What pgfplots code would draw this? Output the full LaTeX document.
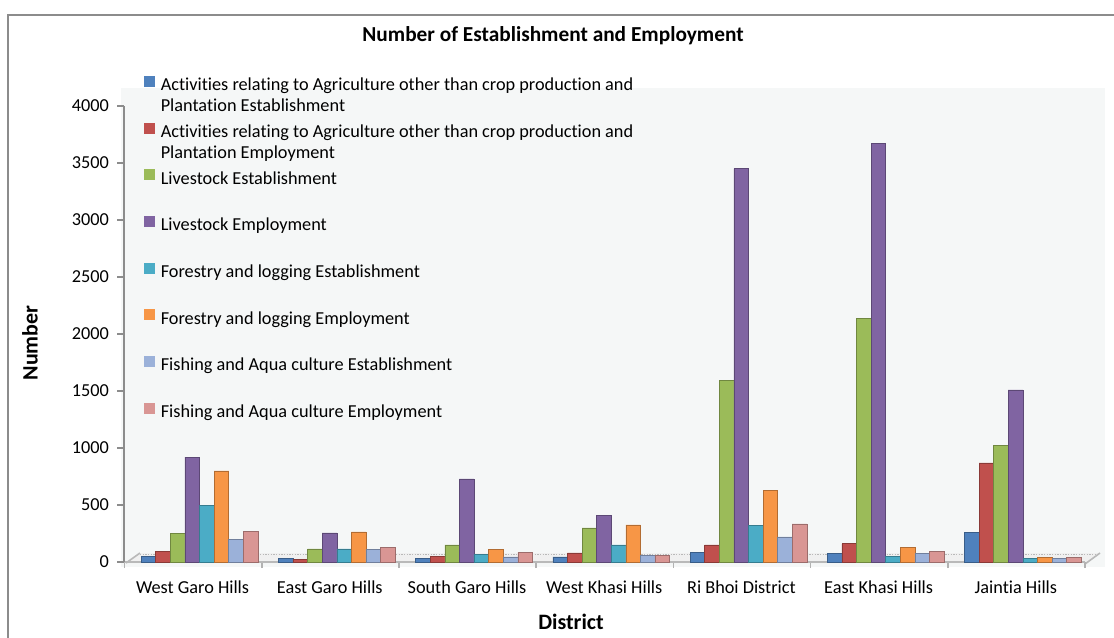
\documentclass[border=0pt]{standalone}
\usepackage{pgfplots}
\pgfplotsset{compat=1.18}
\usepackage{pgfplotstable}
\usepackage{fontspec}
\setmainfont[Ligatures=NoCommon]{Carlito}

\definecolor{c1}{HTML}{4F81BD}
\definecolor{c2}{HTML}{C0504D}
\definecolor{c3}{HTML}{9BBB59}
\definecolor{c4}{HTML}{8064A2}
\definecolor{c5}{HTML}{4BACC6}
\definecolor{c6}{HTML}{F79646}
\definecolor{c7}{HTML}{9BB1D9}
\definecolor{c8}{HTML}{D99694}
\definecolor{bgc}{HTML}{F5F7F7}

\pgfplotstableread{
x s1 s2 s3 s4 s5 s6 s7 s8
0 50 95 250 920 500 800 200 270
1 30 25 115 255 115 265 110 130
2 35 50 150 730 65 110 45 85
3 45 80 300 410 150 325 55 55
4 85 150 1590 3450 320 630 220 335
5 75 160 2140 3670 50 130 75 90
6 260 870 1020 1510 30 40 30 40
}\data

\pgfplotsset{mybar/.style={fill=#1, draw=#1!72!black, line width=0.4pt,
  legend image code/.code={\fill[#1] (0pt,0pt) rectangle (7.5pt,7.5pt);}}}

\begin{document}
\begin{tikzpicture}
\useasboundingbox (0,0) rectangle (835.5pt,477.75pt);
\begin{scope}[x=0.75pt,y=-0.75pt,shift={(0pt,477.75pt)}]
\draw[color=gray!90, line width=1.6pt] (8,645) -- (8,15) -- (1125,15);
\fill[bgc] (121,88) rectangle (1105,567);
\fill[white!88!gray] (126,563) -- (1085,563) -- (1100,553) -- (140,553) -- cycle;
\draw[gray!55, densely dotted, line width=1pt] (140,554.5) -- (1100,554.5);
\draw[gray!55, line width=1.2pt] (1085,564) -- (1100,553);
\draw[gray!55, line width=1.2pt] (126,563) -- (140,553);
\node[font=\bfseries\fontsize{16}{19}\selectfont] at (553,36) {Number of Establishment and Employment};
\node[font=\bfseries\fontsize{16.5}{19}\selectfont, rotate=90] at (30,343) {Number};
\node[font=\bfseries\fontsize{16.5}{19}\selectfont] at (571,622) {District};
\end{scope}
\begin{axis}[
  scale only axis, width=720.375pt, height=342pt,
  at={(93.375pt,56.25pt)}, anchor=south west,
  xmin=-0.547, xmax=6.453, ymin=0, ymax=4000,
  ybar=0pt, bar width=0.1064,
  axis x line*=bottom, axis y line*=left,
  x axis line style={draw=gray!55, line width=2pt, -},
  y axis line style={draw=gray!90, line width=1.5pt, -},
  ytick={0,500,...,4000},
  tick align=outside,
  major tick length=5.25pt, minor tick length=4.5pt,
  ytick style={draw=gray!90, line width=1.2pt},
  xtick={-0.051,0.949,1.949,2.949,3.949,4.949,5.949},
  xticklabels={West Garo Hills, East Garo Hills, South Garo Hills, West Khasi Hills, Ri Bhoi District, East Khasi Hills, Jaintia Hills},
  major x tick style={draw=none},
  minor xtick={-0.547,0.453,1.453,2.453,3.453,4.453,5.453,6.453},
  minor x tick style={draw=gray!60, line width=1.2pt},
  ticklabel style={font=\fontsize{13.7}{16}\selectfont},
  xticklabel style={yshift=-5.25pt},
  yticklabel style={xshift=-3pt, /pgf/number format/1000 sep={}},
  /pgf/number format/assume math mode=true,
  scaled y ticks=false,
  legend style={at={(0.0203,1.0665)}, anchor=north west, draw=none, fill=none,
    inner sep=0pt, row sep=20.8pt, column sep=4.5pt,
    nodes={inner sep=0pt, text height=10pt, text depth=3pt,
      font=\fontsize{13.7}{15.75}\selectfont}},
  legend cell align=left,
]
\addplot[mybar=c1] table[x=x,y=s1]{\data};
\addplot[mybar=c2] table[x=x,y=s2]{\data};
\addplot[mybar=c3] table[x=x,y=s3]{\data};
\addplot[mybar=c4] table[x=x,y=s4]{\data};
\addplot[mybar=c5] table[x=x,y=s5]{\data};
\addplot[mybar=c6] table[x=x,y=s6]{\data};
\addplot[mybar=c7] table[x=x,y=s7]{\data};
\addplot[mybar=c8] table[x=x,y=s8]{\data};
\addlegendentry{\parbox[t]{360pt}{Activities relating to Agriculture other than crop production and\\Plantation Establishment}}
\addlegendentry{\parbox[t]{360pt}{Activities relating to Agriculture other than crop production and\\Plantation Employment}}
\addlegendentry{Livestock Establishment}
\addlegendentry{Livestock Employment}
\addlegendentry{Forestry and logging Establishment}
\addlegendentry{Forestry and logging Employment}
\addlegendentry{Fishing and Aqua culture Establishment}
\addlegendentry{Fishing and Aqua culture Employment}
\end{axis}
\end{tikzpicture}
\end{document}
